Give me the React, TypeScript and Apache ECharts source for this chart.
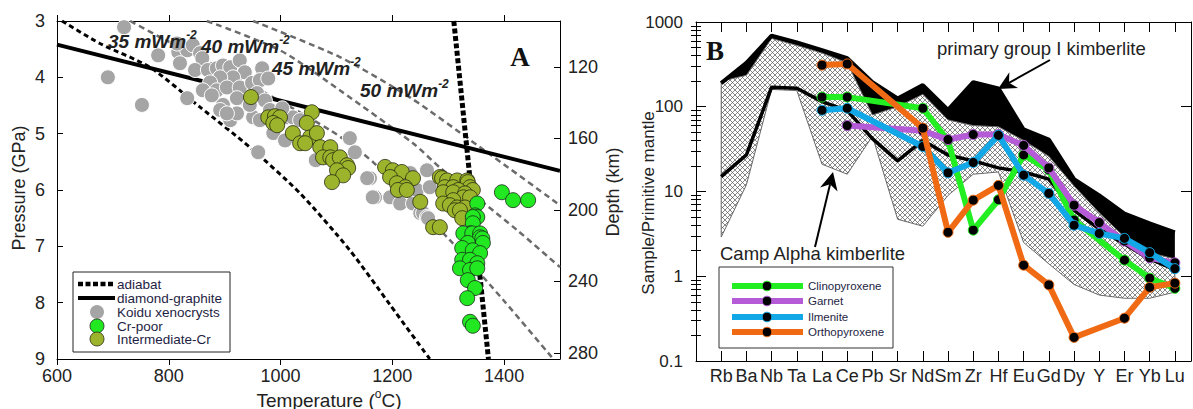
import React, { useEffect, useRef } from 'react';
import * as echarts from 'echarts';

const FONT = '"Liberation Sans", Arial, sans-serif';
const SERIF = '"Liberation Serif", "Times New Roman", serif';

// ---------------- Panel A data ----------------
const tempTicks = [600, 800, 1000, 1200, 1400];
const depthTicks = [120, 160, 200, 240, 280];

const koiduXenocrysts: number[][] = [
  [720, 3.11], [691, 4.0], [752, 4.49], [781, 3.61], [817, 3.55], [833, 3.52], [815, 3.4], [843, 3.43],
  [856, 3.57], [860, 3.66], [820, 3.75], [847, 3.87], [870, 3.87], [886, 3.84], [897, 3.79], [910, 3.82],
  [927, 3.7], [936, 3.91], [967, 3.84], [915, 4.0], [892, 4.0], [874, 4.09], [861, 4.23], [886, 4.23],
  [904, 4.18], [927, 4.18], [949, 4.1], [963, 4.05], [978, 4.02], [958, 4.28], [940, 4.41], [922, 4.37],
  [897, 4.49], [892, 4.58], [910, 4.76], [922, 4.64], [951, 4.71], [963, 4.76], [987, 4.99], [994, 4.82],
  [1012, 4.71], [1022, 4.71], [1035, 4.76], [833, 4.37], [877, 4.32], [904, 4.64], [945, 4.49], [972, 4.41],
  [981, 4.58], [1003, 4.55], [960, 5.33], [1008, 5.12], [1063, 5.47], [1124, 5.08], [1133, 5.33], [1160, 5.79],
  [1155, 5.79], [1169, 6.13], [1165, 6.13], [1196, 6.13], [1214, 6.24], [1232, 5.7], [1237, 6.24], [1244, 6.0],
  [1250, 6.41], [1255, 6.41], [1262, 5.65], [1262, 6.48], [1264, 6.5], [1267, 5.95],
];

const intermediateCr: number[][] = [
  [947, 4.35], [978, 4.71], [990, 4.69], [999, 4.71], [987, 4.81], [994, 4.85], [1022, 4.99], [1035, 5.17],
  [1053, 5.06], [1056, 4.62], [1047, 4.81], [1065, 4.99], [1044, 5.17], [1071, 5.24], [1089, 5.24], [1076, 5.42],
  [1089, 5.42], [1094, 5.47], [1106, 5.42], [1119, 5.56], [1121, 5.61], [1101, 5.65], [1112, 5.74], [1092, 5.86],
  [1187, 5.59], [1201, 5.65], [1217, 5.68], [1237, 5.79], [1196, 5.77], [1208, 5.88], [1223, 5.95], [1210, 6.0],
  [1226, 6.0], [1250, 6.21], [1273, 6.66], [1285, 6.66], [1285, 5.77], [1289, 5.79], [1298, 5.83], [1316, 5.83],
  [1334, 5.83], [1335, 5.86], [1294, 5.95], [1309, 5.95], [1339, 5.95], [1318, 6.0], [1344, 6.0], [1291, 6.04],
  [1309, 6.04], [1330, 6.06], [1327, 6.13], [1339, 6.13], [1309, 6.18], [1291, 6.24], [1303, 6.27], [1316, 6.31],
  [1330, 6.31], [1312, 6.36], [1321, 6.36], [1325, 6.5],
];

const crPoor: number[][] = [
  [1352, 6.24], [1348, 6.45], [1352, 6.48], [1344, 6.48], [1344, 6.59], [1339, 6.77], [1327, 6.77], [1343, 6.77],
  [1357, 6.77], [1357, 6.84], [1361, 6.86], [1362, 6.94], [1335, 6.94], [1325, 7.03], [1344, 7.07], [1357, 7.12],
  [1325, 7.24], [1339, 7.24], [1352, 7.3], [1321, 7.39], [1339, 7.42], [1352, 7.39], [1335, 7.6], [1348, 7.74],
  [1334, 7.92], [1339, 8.34], [1344, 8.41], [1396, 6.04], [1416, 6.18], [1443, 6.18],
];

const diamondGraphite = [[600, 3.42], [1500, 5.66]];
const adiabat = [[1310, 3.0], [1372, 9.0]];
const geotherm35 = [[609, 3.0], [677, 3.4], [766, 3.82], [856, 4.53], [945, 5.24], [1035, 6.06], [1124, 7.07], [1196, 8.04], [1267, 9.0]];
const geotherm40 = [[731, 3.0], [785, 3.29], [900, 3.88], [1089, 4.94], [1166, 5.51], [1303, 6.89], [1400, 7.97], [1488, 9.0]];
const geotherm45 = [[868, 3.0], [999, 3.52], [1106, 4.23], [1237, 5.17], [1285, 5.6], [1423, 6.71], [1500, 7.37]];
const geotherm50 = [[951, 3.0], [1106, 3.64], [1232, 4.36], [1357, 5.24], [1500, 6.27]];
const heatFlowLabels = ['35', '40', '45', '50'];

// ---------------- Panel B data ----------------
const elements = ['Rb', 'Ba', 'Nb', 'Ta', 'La', 'Ce', 'Pb', 'Sr', 'Nd', 'Sm', 'Zr', 'Hf', 'Eu', 'Gd', 'Dy', 'Y', 'Er', 'Yb', 'Lu'];
const groupIUpper = [190, 330, 690, 575, 465, 375, 195, 125, 180, 92, 195, 165, 54, 41, 14, 9, 5.5, 4.2, 3.3];
const groupILower = [15, 27, 170, 165, 115, 90, 42, 23, 40, 27, 23, 19, 17, 14, 6, 3.6, 2.4, 1.6, 1.2];
const campAlphaUpper = [200, 235, 640, 530, 430, 330, 80, 100, 140, 70, 60, 58, 40, 26, 11.6, 5.6, 2.9, 1.9, 1.6];
const campAlphaLower = [2.9, 12, 160, 155, 21, 16, 45, 4.7, 3.9, 9, 16, 17, 2.5, 1.4, 0.8, 0.6, 0.55, 0.55, 0.65];

const clinopyroxene = [null, null, null, null, 130, 130, null, null, 96, 40, 3.5, 8, 27, 18, 4.6, null, 1.55, 0.95, 0.72];
const garnet = [null, null, null, null, null, 60, null, null, 52, 41, 47, 47, 35, 19, 6.9, 4.3, 2.6, 1.65, 1.44];
const ilmenite = [null, null, null, null, 91, 96, null, null, 34, 16.6, 22, 46, 15.6, 9.5, 4.0, 3.2, 2.8, 1.9, 1.23];
const orthopyroxene = [null, null, null, null, 310, 320, null, null, 56, 3.3, 7.9, 11.8, 1.35, 0.79, 0.19, null, 0.32, 0.74, 0.83];

const logMajors = [0.1, 1, 10, 100, 1000];
const logMinors = [0.2, 0.3, 0.4, 0.5, 0.6, 0.7, 0.8, 0.9, 2, 3, 4, 5, 6, 7, 8, 9, 20, 30, 40, 50, 60, 70, 80, 90, 200, 300, 400, 500, 600, 700, 800, 900];

const minerals = [
  { name: 'Clinopyroxene', color: '#22ee22', data: clinopyroxene },
  { name: 'Garnet', color: '#b65bd8', data: garnet },
  { name: 'Ilmenite', color: '#12a8e8', data: ilmenite },
  { name: 'Orthopyroxene', color: '#f06a14', data: orthopyroxene },
];

const hatchSvg = "<svg xmlns='http://www.w3.org/2000/svg' width='5' height='5'><rect width='5' height='5' fill='#ffffff'/><path d='M0 0L5 5M5 0L0 5' stroke='#555555' stroke-width='0.7'/></svg>";
const hatchURL = 'data:image/svg+xml;charset=utf-8,' + encodeURIComponent(hatchSvg);

const catPos = elements.map((_, i) => i + 1);
const toXY = (arr: (number | null)[]) =>
  arr.map((v, i) => (v == null ? null : [i + 1, v])).filter((p) => p != null) as number[][];

function bandSeries(upper: number[], lower: number[], style: any) {
  return {
    type: 'custom',
    xAxisIndex: 2,
    yAxisIndex: 2,
    coordinateSystem: 'cartesian2d',
    silent: true,
    data: [[1, 1]],
    renderItem: (_params: any, api: any) => {
      const pts: number[][] = [];
      upper.forEach((v, i) => pts.push(api.coord([i + 1, v])));
      for (let i = lower.length - 1; i >= 0; i--) pts.push(api.coord([i + 1, lower[i]]));
      return { type: 'polygon', shape: { points: pts }, style };
    },
  };
}

const label = { fontFamily: FONT, fontSize: 18, color: '#222' };
const blackLine = { show: true, onZero: false, lineStyle: { color: '#000', width: 1 } };
const plainFmt = (v: number) => String(Math.round(v));
const logFmt = (v: number) => {
  const e = Math.round(Math.log10(v));
  return e < 0 ? '0.1' : String(Math.pow(10, e));
};

function txt(x: number, y: number, text: string, extra: any = {}) {
  return {
    type: 'text', x, y, z: 100,
    style: { text, fontFamily: FONT, fontSize: 18, fill: '#222', verticalAlign: 'middle', align: 'left', ...extra },
  };
}

function arrowHead(tip: number[], from: number[], len: number, half: number) {
  const dx = tip[0] - from[0], dy = tip[1] - from[1];
  const L = Math.hypot(dx, dy);
  const ux = dx / L, uy = dy / L, nx = -uy, ny = ux;
  const bx = tip[0] - len * ux, by = tip[1] - len * uy;
  const notch = [tip[0] - len * 0.7 * ux, tip[1] - len * 0.7 * uy];
  return [
    { type: 'line', z: 100, shape: { x1: from[0], y1: from[1], x2: notch[0], y2: notch[1] }, style: { stroke: '#000', lineWidth: 2 } },
    {
      type: 'polygon', z: 100,
      shape: { points: [tip, [bx + half * nx, by + half * ny], notch, [bx - half * nx, by - half * ny]] },
      style: { fill: '#000' },
    },
  ];
}

const geoLabelPos = [[108, 41], [201, 46], [272, 68], [360, 90]];

function buildGraphic() {
  const g: any[] = [];
  g.push({ type: 'text', x: 19, y: 188, rotation: Math.PI / 2, z: 100,
    style: { text: 'Pressure (GPa)', fontFamily: FONT, fontSize: 18, fill: '#222', align: 'center', verticalAlign: 'middle' } });
  g.push({ type: 'text', x: 613, y: 192, rotation: Math.PI / 2, z: 100,
    style: { text: 'Depth (km)', fontFamily: FONT, fontSize: 18, fill: '#222', align: 'center', verticalAlign: 'middle' } });
  g.push({ type: 'text', x: 329, y: 400, z: 100,
    style: {
      text: '{a|Temperature (}{s|o}{a|C)}', fontFamily: FONT, align: 'center', verticalAlign: 'middle',
      rich: { a: { fontFamily: FONT, fontSize: 19, lineHeight: 24, fill: '#222' }, s: { fontFamily: FONT, fontSize: 12, lineHeight: 12, verticalAlign: 'top', fill: '#222' } },
    } });
  g.push({ type: 'text', x: 648, y: 203, rotation: Math.PI / 2, z: 100,
    style: { text: 'Sample/Primitive mantle', fontFamily: FONT, fontSize: 17, fill: '#222', align: 'center', verticalAlign: 'middle' } });

  g.push({ type: 'text', x: 520, y: 57, z: 100,
    style: { text: 'A', fontFamily: SERIF, fontWeight: 'bold', fontSize: 27, fill: '#111', align: 'center', verticalAlign: 'middle' } });
  g.push({ type: 'text', x: 715, y: 51, z: 100,
    style: { text: 'B', fontFamily: SERIF, fontWeight: 'bold', fontSize: 27, fill: '#111', align: 'center', verticalAlign: 'middle' } });

  heatFlowLabels.forEach((h, i) => {
    const [x, y] = geoLabelPos[i];
    g.push({ type: 'text', x, y, z: 100,
      style: {
        text: `{a|${h} mWm}{s|-2}`, align: 'left', verticalAlign: 'middle',
        rich: {
          a: { fontFamily: FONT, fontSize: 19, fontWeight: 'bold', fontStyle: 'italic', lineHeight: 24, fill: '#222' },
          s: { fontFamily: FONT, fontSize: 12, fontWeight: 'bold', fontStyle: 'italic', lineHeight: 12, verticalAlign: 'top', fill: '#222' },
        },
      } });
  });

  // Legend A
  g.push({ type: 'rect', z: 99, shape: { x: 73, y: 272, width: 157, height: 80 }, style: { fill: '#fff', stroke: '#222', lineWidth: 1 } });
  g.push({ type: 'line', z: 100, shape: { x1: 78, y1: 284, x2: 115, y2: 284 }, style: { stroke: '#000', lineWidth: 4.5, lineDash: [5, 2.5] } });
  g.push({ type: 'line', z: 100, shape: { x1: 78, y1: 298, x2: 115, y2: 298 }, style: { stroke: '#000', lineWidth: 4 } });
  g.push({ type: 'circle', z: 100, shape: { cx: 97, cy: 312, r: 7 }, style: { fill: '#a5a5a5' } });
  g.push({ type: 'circle', z: 100, shape: { cx: 97, cy: 326, r: 7 }, style: { fill: '#22e822', stroke: '#1a2a1a', lineWidth: 0.8 } });
  g.push({ type: 'circle', z: 100, shape: { cx: 97, cy: 339, r: 7 }, style: { fill: '#9bb42c', stroke: '#2a2a10', lineWidth: 0.8 } });
  [['adiabat', 284], ['diamond-graphite', 298], ['Koidu xenocrysts', 312], ['Cr-poor', 326], ['Intermediate-Cr', 339]].forEach(([t, y]) => {
    g.push(txt(117, y as number, t as string, { fontSize: 13.5, fill: '#1e1e44' }));
  });

  // Legend B
  g.push({ type: 'rect', z: 99, shape: { x: 719, y: 267, width: 174, height: 81 }, style: { fill: '#fff', stroke: '#333', lineWidth: 1 } });
  const rows = [286, 301, 317, 332];
  minerals.forEach((m, i) => {
    const y = rows[i];
    g.push({ type: 'line', z: 100, shape: { x1: 732, y1: y, x2: 803, y2: y }, style: { stroke: m.color, lineWidth: 6 } });
    g.push({ type: 'circle', z: 100, shape: { cx: 767, cy: y, r: 4.8 }, style: { fill: '#000', stroke: m.color, lineWidth: 1 } });
    g.push(txt(808, y, m.name, { fontSize: 11.5, fill: '#1e1e44' }));
  });

  g.push(txt(937, 48, 'primary group I kimberlite', { fontSize: 18.5 }));
  g.push(...arrowHead([998, 89], [1050, 60], 18, 9));
  g.push(txt(720, 253, 'Camp Alpha kimberlite', { fontSize: 18.5 }));
  g.push(...arrowHead([833, 172], [815, 247], 18, 9));
  return g;
}

function buildOption(): any {
  const lineSeries = (data: number[][], color: string, width: number, dash: any, z = 2, smooth: any = 0.25) => ({
    type: 'line', xAxisIndex: 0, yAxisIndex: 0, data, symbol: 'none', smooth, z, silent: true,
    lineStyle: { color, width, type: dash, cap: 'butt' },
  });
  const scatter = (data: number[][], color: string, border: string, bw: number, z: number) => ({
    type: 'scatter', xAxisIndex: 0, yAxisIndex: 0, data, symbol: 'circle', symbolSize: 15, z, silent: true,
    itemStyle: { color, borderColor: border, borderWidth: bw, opacity: 1 },
  });

  return {
    animation: false,
    backgroundColor: '#fff',
    grid: [
      { left: 57, top: 21, width: 503, height: 338, containLabel: false },
      { left: 696, top: 22, width: 495, height: 339, containLabel: false },
    ],
    xAxis: [
      { gridIndex: 0, type: 'value', min: 600, max: 1500, position: 'bottom', axisLine: blackLine,
        axisTick: { show: true, inside: false, length: 6, customValues: tempTicks, lineStyle: { color: '#000' } },
        axisLabel: { ...label, margin: 8, customValues: tempTicks, formatter: plainFmt }, splitLine: { show: false } },
      { gridIndex: 0, type: 'value', min: 600, max: 1500, position: 'top', axisLine: blackLine,
        axisTick: { show: true, inside: false, length: 6, customValues: tempTicks, lineStyle: { color: '#000' } },
        axisLabel: { show: false }, splitLine: { show: false } },
      { gridIndex: 1, type: 'value', min: 0, max: 19.64, position: 'bottom', axisLine: blackLine,
        axisTick: { show: true, inside: true, length: 10, customValues: catPos, lineStyle: { color: '#000' } },
        axisLabel: { ...label, margin: 6, customValues: catPos, formatter: (v: number) => elements[Math.round(v) - 1] ?? '' },
        splitLine: { show: false } },
      { gridIndex: 1, type: 'value', min: 0, max: 19.64, position: 'top', axisLine: blackLine,
        axisTick: { show: true, inside: true, length: 10, customValues: catPos, lineStyle: { color: '#000' } },
        axisLabel: { show: false }, splitLine: { show: false } },
    ],
    yAxis: [
      { gridIndex: 0, type: 'value', min: 3, max: 9, interval: 1, inverse: true, position: 'left', axisLine: blackLine,
        axisTick: { show: true, inside: true, length: 6, lineStyle: { color: '#000' } },
        axisLabel: { ...label, margin: 12, formatter: plainFmt }, splitLine: { show: false } },
      { gridIndex: 0, type: 'value', min: 94.3, max: 283.4, inverse: true, position: 'right', axisLine: blackLine,
        axisTick: { show: true, inside: true, length: 6, customValues: depthTicks, lineStyle: { color: '#000' } },
        axisLabel: { ...label, margin: 8, customValues: depthTicks, formatter: plainFmt }, splitLine: { show: false } },
      { gridIndex: 1, type: 'log', logBase: 10, min: 0.1, max: 1000, position: 'left', axisLine: blackLine,
        axisTick: { show: true, inside: true, length: 10, customValues: logMajors, lineStyle: { color: '#000' } },
        axisLabel: { ...label, fontSize: 17, margin: 13, customValues: logMajors, formatter: logFmt }, splitLine: { show: false } },
      { gridIndex: 1, type: 'log', logBase: 10, min: 0.1, max: 1000, position: 'left', axisLine: { show: false },
        axisTick: { show: true, inside: true, length: 5, customValues: logMinors, lineStyle: { color: '#000' } },
        axisLabel: { show: false }, splitLine: { show: false } },
      { gridIndex: 1, type: 'log', logBase: 10, min: 0.1, max: 1000, position: 'right', axisLine: blackLine,
        axisTick: { show: true, inside: true, length: 10, customValues: logMajors, lineStyle: { color: '#000' } },
        axisLabel: { show: false }, splitLine: { show: false } },
      { gridIndex: 1, type: 'log', logBase: 10, min: 0.1, max: 1000, position: 'right', axisLine: { show: false },
        axisTick: { show: true, inside: true, length: 5, customValues: logMinors, lineStyle: { color: '#000' } },
        axisLabel: { show: false }, splitLine: { show: false } },
    ],
    series: [
      lineSeries(geotherm50, '#6b6b6b', 2.5, [6, 4]),
      lineSeries(geotherm45, '#6b6b6b', 2.5, [6, 4]),
      lineSeries(geotherm40, '#6b6b6b', 2.5, [6, 4]),
      lineSeries(geotherm35, '#000', 3, [5, 3.5]),
      lineSeries(diamondGraphite, '#000', 4, 'solid', 3, false),
      lineSeries(adiabat, '#000', 5, [5, 2.5], 3, false),
      scatter(koiduXenocrysts, '#a5a5a5', '#ffffff', 1, 4),
      scatter(intermediateCr, '#9bb42c', '#2a2a10', 0.8, 5),
      scatter(crPoor, '#22e822', '#1a2a1a', 0.8, 6),
      bandSeries(groupIUpper, groupILower, { fill: '#000' }),
      bandSeries(campAlphaUpper, campAlphaLower, {
        fill: { image: hatchURL, repeat: 'repeat', imageWidth: 5, imageHeight: 5 },
        stroke: '#6a6a6a', lineWidth: 1,
      }),
      { type: 'line', xAxisIndex: 2, yAxisIndex: 2, data: toXY(groupIUpper), symbol: 'none', silent: true, z: 3,
        lineStyle: { color: '#000', width: 4 } },
      { type: 'line', xAxisIndex: 2, yAxisIndex: 2, data: toXY(groupILower), symbol: 'none', silent: true, z: 3,
        lineStyle: { color: '#000', width: 3.5 } },
      ...minerals.map((m, i) => ({
        type: 'line', name: m.name, xAxisIndex: 2, yAxisIndex: 2, data: toXY(m.data), silent: true, z: 4 + i,
        symbol: 'circle', symbolSize: 10, showSymbol: true,
        lineStyle: { color: m.color, width: 6 },
        itemStyle: { color: '#000', borderColor: m.color, borderWidth: 1 },
      })),
    ],
    graphic: { elements: buildGraphic() },
  };
}

export default function App() {
  const ref = useRef<HTMLDivElement>(null);
  useEffect(() => {
    if (!ref.current) return;
    const chart = echarts.init(ref.current, null, { renderer: 'svg' });
    chart.setOption(buildOption());
    return () => chart.dispose();
  }, []);
  return (
    <div
      ref={ref}
      style={{ position: 'absolute', left: 0, top: 0, width: 1193, height: 409, background: '#fff' }}
    />
  );
}
